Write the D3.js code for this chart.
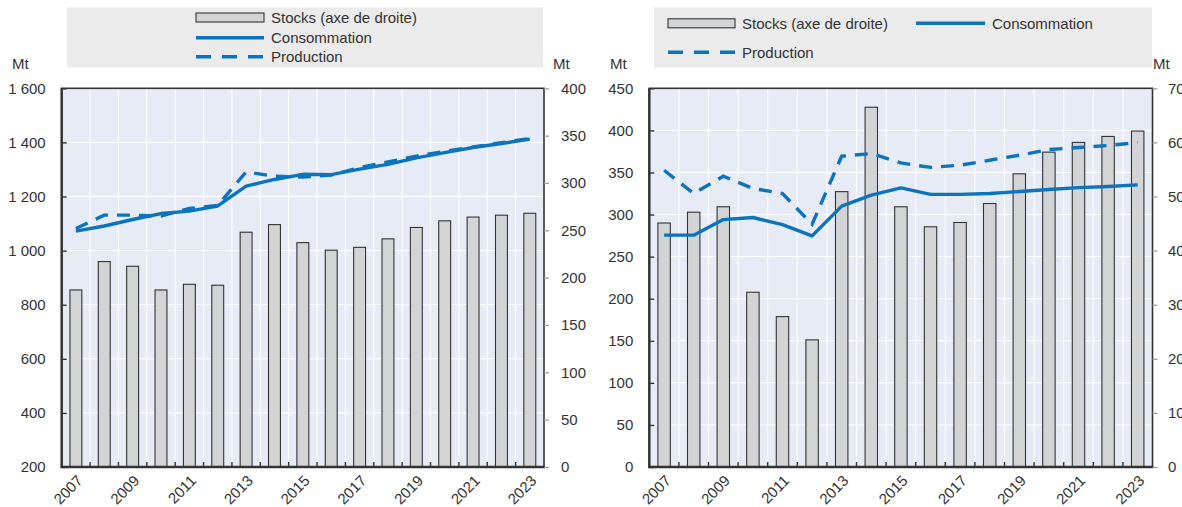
<!DOCTYPE html>
<html>
<head>
<meta charset="utf-8">
<script src="https://cdn.jsdelivr.net/npm/d3@7"></script>
<style>
  html, body { margin: 0; padding: 0; background: #ffffff; }
  svg { display: block; }
  text { font-family: "Liberation Sans", Arial, Helvetica, sans-serif; fill: #333333; }
</style>
</head>
<body>
<svg id="chart" width="1182" height="507"></svg>
<script>
// Years shown on both panels
const years = [2007, 2008, 2009, 2010, 2011, 2012, 2013, 2014, 2015, 2016, 2017, 2018, 2019, 2020, 2021, 2022, 2023];
const yearLabels = [2007, 2009, 2011, 2013, 2015, 2017, 2019, 2021, 2023];

// Panel A (Mt)
const stocksA = [187, 217, 212, 187, 193, 192, 248, 256, 237, 229, 232, 241, 253, 260, 264, 266, 268];
const consumptionA = [1072, 1091, 1115, 1137, 1146, 1165, 1238, 1263, 1282, 1281, 1301, 1319, 1343, 1362, 1381, 1396, 1412];
const productionA = [1082, 1131, 1131, 1128, 1156, 1167, 1291, 1275, 1272, 1279, 1307, 1328, 1349, 1367, 1383, 1399, 1414];
const leftTicksA = [200, 400, 600, 800, 1000, 1200, 1400, 1600];
const rightTicksA = [0, 50, 100, 150, 200, 250, 300, 350, 400];

// Panel B (Mt)
const stocksB = [45.1, 47.1, 48.1, 32.3, 27.8, 23.5, 50.9, 66.5, 48.1, 44.4, 45.2, 48.7, 54.2, 58.2, 60.0, 61.1, 62.1];
const consumptionB = [275.5, 275.5, 294, 296.5, 288, 274.6, 310, 323, 331.6, 324, 324, 325, 327.3, 329.7, 332, 333.3, 335.2];
const productionB = [352.6, 325, 345.5, 331, 325, 288.5, 369.3, 372.5, 361.3, 356, 358.6, 364.5, 370.5, 377.2, 379.6, 382, 385.5];
const leftTicksB = [0, 50, 100, 150, 200, 250, 300, 350, 400, 450];
const rightTicksB = [0, 10, 20, 30, 40, 50, 60, 70];

const seriesNames = ["Stocks (axe de droite)", "Consommation", "Production"];

const BLUE = "#0b74bd";
const PLOT_BG = "#e7ebf6";
const LEGEND_BG = "#ebebeb";
const FRAME = "#333333";

const fmt = d3.formatLocale({ decimal: ",", thousands: " ", grouping: [3], currency: ["", ""] }).format(",");

const svg = d3.select("#chart");

function drawPanel(p) {
  const g = svg.append("g");

  // Legend box
  g.append("rect")
    .attr("x", p.legend.x).attr("y", 7.5)
    .attr("width", p.legend.w).attr("height", 60)
    .attr("fill", LEGEND_BG);

  const x = d3.scaleBand().domain(years).range([p.x0, p.x1]);
  const yL = d3.scaleLinear().domain(p.leftDomain).range([p.y1, p.y0]);
  const yR = d3.scaleLinear().domain(p.rightDomain).range([p.y1, p.y0]);
  const cx = d => x(d) + x.bandwidth() / 2;

  // Plot background
  g.append("rect")
    .attr("x", p.x0).attr("y", p.y0)
    .attr("width", p.x1 - p.x0).attr("height", p.y1 - p.y0)
    .attr("fill", PLOT_BG);

  // Gridlines
  g.append("g").selectAll("line").data(p.leftTicks.slice(1, -1)).join("line")
    .attr("x1", p.x0).attr("x2", p.x1)
    .attr("y1", d => yL(d)).attr("y2", d => yL(d))
    .attr("stroke", "#ffffff").attr("stroke-width", 1);
  g.append("g").selectAll("line").data(years.slice(1)).join("line")
    .attr("x1", d => x(d)).attr("x2", d => x(d))
    .attr("y1", p.y0).attr("y2", p.y1)
    .attr("stroke", "#ffffff").attr("stroke-width", 1);

  // Stock bars on the right axis
  const bw = x.bandwidth() * 0.42;
  g.append("g").selectAll("rect").data(years).join("rect")
    .attr("x", d => cx(d) - bw / 2)
    .attr("width", bw)
    .attr("y", (d, i) => yR(p.stocks[i]))
    .attr("height", (d, i) => p.y1 - yR(p.stocks[i]))
    .attr("fill", "#d3d4d6")
    .attr("stroke", "#333333")
    .attr("stroke-width", 1.1);

  // Lines on the left axis
  const line = d3.line().x(d => cx(d[0])).y(d => yL(d[1]));
  g.append("path")
    .datum(years.map((d, i) => [d, p.production[i]]))
    .attr("d", line)
    .attr("fill", "none").attr("stroke", BLUE)
    .attr("stroke-width", 3.4).attr("stroke-dasharray", "13,9");
  g.append("path")
    .datum(years.map((d, i) => [d, p.consumption[i]]))
    .attr("d", line)
    .attr("fill", "none").attr("stroke", BLUE)
    .attr("stroke-width", 3.4).attr("stroke-linejoin", "round");

  // Frame
  g.append("rect")
    .attr("x", p.x0).attr("y", p.y0)
    .attr("width", p.x1 - p.x0).attr("height", p.y1 - p.y0)
    .attr("fill", "none").attr("stroke", FRAME).attr("stroke-width", 1.6);
  g.append("line").attr("x1", p.x0).attr("x2", p.x0).attr("y1", p.y0).attr("y2", p.y1 + 1)
    .attr("stroke", FRAME).attr("stroke-width", 2.4);
  g.append("line").attr("x1", p.x0 - 1).attr("x2", p.x1 + 1).attr("y1", p.y1).attr("y2", p.y1)
    .attr("stroke", FRAME).attr("stroke-width", 2.4);

  // Left axis: inward ticks
  const axL = g.append("g").attr("transform", `translate(${p.x0},0)`)
    .call(d3.axisLeft(yL).tickValues(p.leftTicks).tickSize(-5).tickPadding(p.leftPad).tickFormat(fmt));
  axL.select(".domain").remove();
  axL.selectAll(".tick line").attr("stroke", FRAME).attr("stroke-width", 1.4);
  axL.selectAll(".tick text").attr("font-size", 15).attr("fill", "#333333")
    .attr("font-family", "Liberation Sans, Arial, sans-serif");

  // Right axis: outward ticks
  const axR = g.append("g").attr("transform", `translate(${p.x1},0)`)
    .call(d3.axisRight(yR).tickValues(p.rightTicks).tickSize(5).tickPadding(p.rightPad).tickFormat(fmt));
  axR.select(".domain").remove();
  axR.selectAll(".tick line").attr("stroke", "#9a9a9a").attr("stroke-width", 1.2);
  axR.selectAll(".tick text").attr("font-size", 15).attr("fill", "#333333")
    .attr("font-family", "Liberation Sans, Arial, sans-serif");

  // Bottom ticks at year boundaries, pointing up
  g.append("g").selectAll("line").data(years.slice(1)).join("line")
    .attr("x1", d => x(d)).attr("x2", d => x(d))
    .attr("y1", p.y1).attr("y2", p.y1 - 5)
    .attr("stroke", FRAME).attr("stroke-width", 1.4);

  // Year labels, rotated
  g.append("g").selectAll("text").data(yearLabels).join("text")
    .attr("transform", d => `translate(${cx(d) + 4},${p.y1 + 11}) rotate(-45)`)
    .attr("text-anchor", "end")
    .attr("dy", "0.35em")
    .attr("font-size", 15)
    .text(d => d);

  // Unit labels
  g.append("text").attr("x", p.mtLeft).attr("y", 69).attr("font-size", 15).text("Mt");
  g.append("text").attr("x", p.mtRight).attr("y", 69).attr("font-size", 15).text("Mt");

  // Legend entries
  p.legend.items.forEach((it, k) => {
    const lg = g.append("g");
    if (k === 0) {
      lg.append("rect")
        .attr("x", it.x).attr("y", it.y - 4.5)
        .attr("width", it.len).attr("height", 9)
        .attr("fill", "#d3d4d6").attr("stroke", "#333333").attr("stroke-width", 1.1);
    } else {
      lg.append("line")
        .attr("x1", it.x).attr("x2", it.x + it.len)
        .attr("y1", it.y).attr("y2", it.y)
        .attr("stroke", BLUE).attr("stroke-width", 3.4)
        .attr("stroke-dasharray", k === 2 ? "15,11" : null);
    }
    lg.append("text")
      .attr("x", it.x + it.len + 7).attr("y", it.y)
      .attr("dy", "0.35em").attr("font-size", 15)
      .text(seriesNames[k]);
  });
}

drawPanel({
  x0: 61.7, x1: 544, y0: 88.3, y1: 467,
  leftDomain: [200, 1600], rightDomain: [0, 400],
  leftTicks: leftTicksA, rightTicks: rightTicksA,
  leftPad: 16, rightPad: 12,
  stocks: stocksA, consumption: consumptionA, production: productionA,
  mtLeft: 12, mtRight: 553,
  legend: {
    x: 67, w: 476,
    items: [
      { x: 196, y: 17.5, len: 68 },
      { x: 196, y: 37.7, len: 68 },
      { x: 196, y: 56.7, len: 68 }
    ]
  }
});

drawPanel({
  x0: 649.3, x1: 1152.5, y0: 88.3, y1: 467,
  leftDomain: [0, 450], rightDomain: [0, 70],
  leftTicks: leftTicksB, rightTicks: rightTicksB,
  leftPad: 16, rightPad: 10.5,
  stocks: stocksB, consumption: consumptionB, production: productionB,
  mtLeft: 610, mtRight: 1153,
  legend: {
    x: 654, w: 498,
    items: [
      { x: 668, y: 23.3, len: 67 },
      { x: 916, y: 23.3, len: 69 },
      { x: 668, y: 52.3, len: 67 }
    ]
  }
});
</script>
</body>
</html>
